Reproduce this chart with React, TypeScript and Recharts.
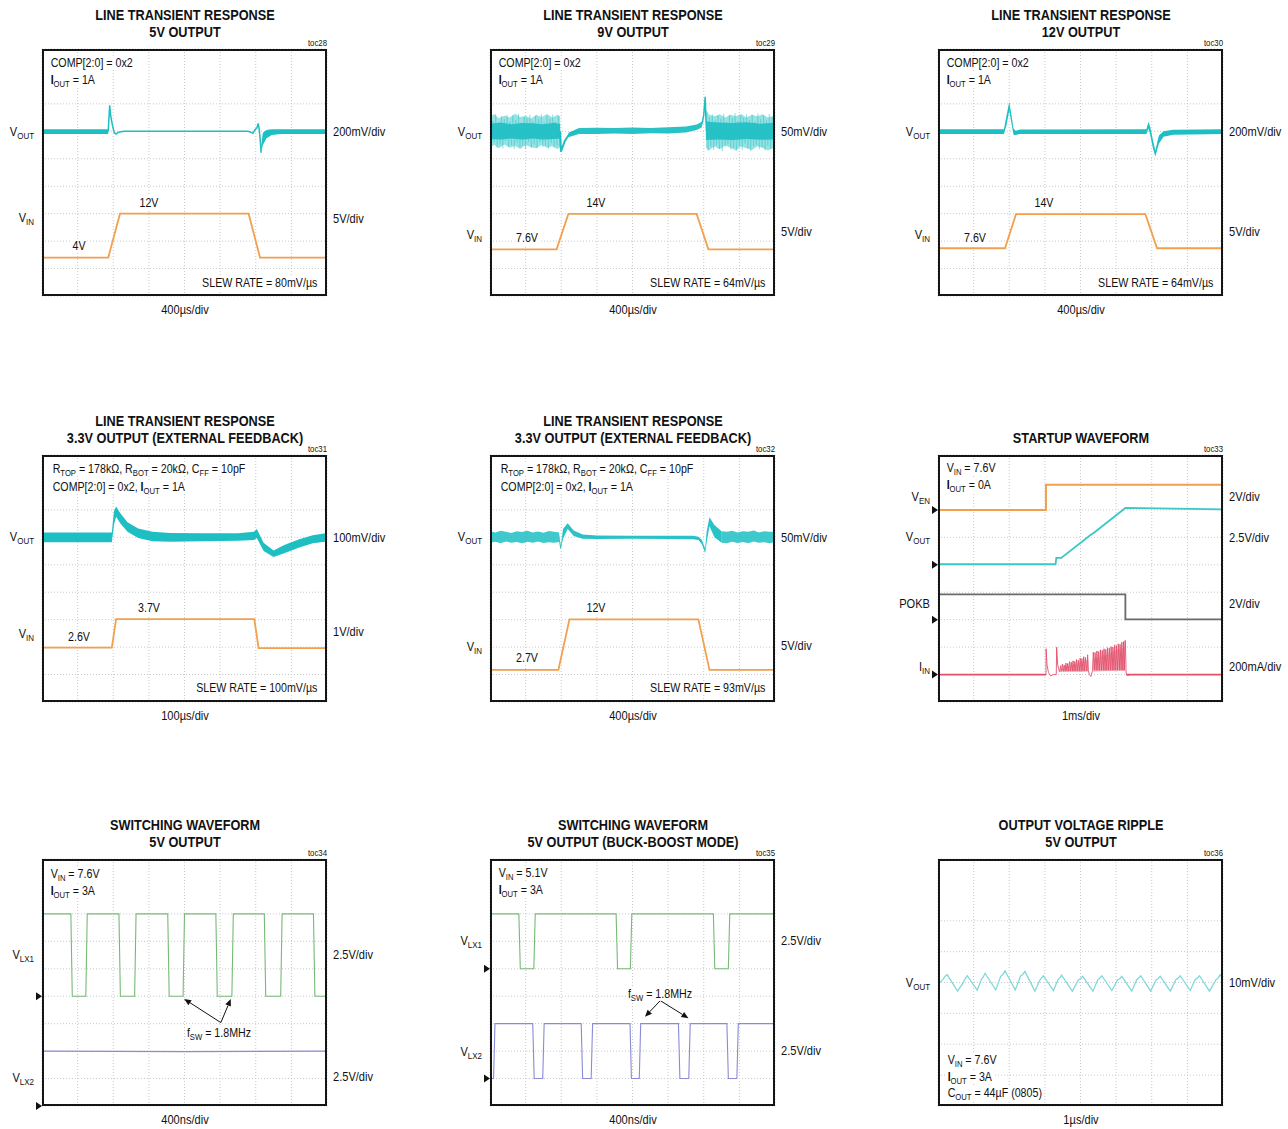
import React from "react";
import {
  ComposedChart,
  Line,
  Area,
  XAxis,
  YAxis,
  CartesianGrid,
  ReferenceDot,
  ReferenceLine,
} from "recharts";

// Every trace is expressed in screen divisions: time runs 0..8 div,
// amplitude 0..9 div (0..8 div on the ripple plot).
const X_TICKS = [0, 1, 2, 3, 4, 5, 6, 7, 8];

// ---------- toc28: 5V output line transient ----------
const p1VoutBandPre = [[0, 5.9, 6.08], [1.86, 5.9, 6.08]];
const p1VoutTrace = [
  [1.86, 6.0], [1.88, 6.5], [1.9, 6.95], [1.93, 6.55], [1.98, 6.2], [2.03, 5.95], [2.08, 5.9],
  [2.15, 5.97], [2.3, 6.0], [5.78, 6.0], [5.86, 5.97], [5.92, 5.92], [5.97, 6.05], [6.03, 6.12],
  [6.07, 6.29], [6.1, 6.05], [6.13, 5.6], [6.15, 5.22],
];
const p1VoutBandPost = [
  [6.15, 5.22, 5.45], [6.2, 5.5, 5.95], [6.3, 5.75, 6.05], [6.45, 5.87, 6.08], [6.7, 5.9, 6.08], [8, 5.9, 6.08],
];
const p1Vin = [[0, 1.4], [1.86, 1.4], [2.19, 3.0], [5.8, 3.0], [6.12, 1.4], [8, 1.4]];

// ---------- toc29: 9V output line transient ----------
const p2NoiseOuterL = [
  [0, 5.42, 6.55], [0.12, 5.5, 6.62], [0.25, 5.38, 6.48], [0.4, 5.52, 6.58], [0.55, 5.4, 6.5],
  [0.7, 5.47, 6.64], [0.85, 5.36, 6.52], [1.0, 5.5, 6.57], [1.15, 5.42, 6.47], [1.3, 5.38, 6.6],
  [1.45, 5.5, 6.52], [1.6, 5.4, 6.63], [1.75, 5.46, 6.5], [1.9, 5.35, 6.6], [1.97, 5.45, 6.55],
];
const p2NoiseInnerL = [
  [0, 5.72, 6.28], [0.3, 5.7, 6.32], [0.6, 5.74, 6.26], [0.9, 5.7, 6.3], [1.2, 5.74, 6.29],
  [1.5, 5.7, 6.26], [1.8, 5.72, 6.31], [1.97, 5.74, 6.27],
];
// sampled every 0.04 div from t = 0
const p2HairL = [
  6.5, 5.45, 6.38, 5.6, 6.62, 5.4, 6.3, 5.52, 6.55, 5.38, 6.45, 5.65, 6.6, 5.44, 6.35, 5.5, 6.58,
  5.36, 6.42, 5.58, 6.64, 5.42, 6.32, 5.48, 6.52, 5.35, 6.47, 5.62, 6.6, 5.4, 6.36, 5.53, 6.56,
  5.39, 6.44, 5.6, 6.63, 5.43, 6.33, 5.5, 6.57, 5.37, 6.46, 5.57, 6.61, 5.41, 6.34, 5.49, 6.54, 5.45,
];
const p2StepTrace = [
  [1.97, 6.0], [1.99, 5.26], [2.03, 5.4], [2.1, 5.65], [2.2, 5.85], [2.35, 5.97], [2.5, 6.02],
];
const p2MidBand = [
  [2.2, 5.78, 5.95], [2.5, 5.9, 6.12], [3.0, 5.9, 6.13], [3.5, 5.92, 6.12], [4.0, 5.9, 6.14],
  [4.5, 5.93, 6.12], [5.0, 5.92, 6.15], [5.5, 5.96, 6.18], [5.8, 6.05, 6.25], [5.95, 6.15, 6.35],
];
const p2SpikeTrace = [[5.95, 6.25], [6.0, 6.6], [6.04, 7.26], [6.06, 6.5], [6.08, 6.0]];
const p2NoiseOuterR = [
  [6.06, 5.4, 6.8], [6.15, 5.3, 6.6], [6.3, 5.45, 6.55], [6.45, 5.35, 6.62], [6.6, 5.48, 6.5],
  [6.75, 5.4, 6.6], [6.9, 5.3, 6.55], [7.05, 5.45, 6.63], [7.2, 5.38, 6.5], [7.35, 5.32, 6.6],
  [7.5, 5.45, 6.55], [7.65, 5.4, 6.62], [7.8, 5.3, 6.5], [8, 5.42, 6.58],
];
const p2NoiseInnerR = [
  [6.06, 5.68, 6.36], [6.4, 5.7, 6.32], [6.8, 5.68, 6.3], [7.2, 5.72, 6.33], [7.6, 5.69, 6.28], [8, 5.7, 6.31],
];
// sampled every 0.04 div from t = 6.08
const p2HairR = [
  6.7, 5.3, 6.5, 5.45, 6.62, 5.32, 6.4, 5.5, 6.58, 5.36, 6.46, 5.28, 6.64, 5.44, 6.35, 5.52, 6.6,
  5.34, 6.48, 5.4, 6.66, 5.3, 6.38, 5.47, 6.57, 5.33, 6.5, 5.55, 6.62, 5.38, 6.42, 5.29, 6.6, 5.46,
  6.36, 5.5, 6.65, 5.35, 6.45, 5.42, 6.58, 5.31, 6.4, 5.48, 6.63, 5.36, 6.52, 5.44, 6.55,
];
const p2Vin = [[0, 1.7], [1.87, 1.7], [2.2, 2.99], [5.8, 2.99], [6.13, 1.7], [8, 1.7]];

// ---------- toc30: 12V output line transient ----------
const p3VoutBand = [
  [0, 5.9, 6.08], [1.85, 5.9, 6.08], [1.92, 6.2, 6.55], [2.0, 6.75, 7.08], [2.06, 6.3, 6.6],
  [2.12, 5.88, 6.1], [2.18, 5.87, 6.02], [2.3, 5.9, 6.07], [5.85, 5.9, 6.08], [5.91, 6.1, 6.35],
  [5.96, 5.85, 6.15], [6.03, 5.4, 5.7], [6.1, 5.08, 5.3], [6.2, 5.55, 5.85], [6.33, 5.8, 6.0],
  [6.6, 5.88, 6.06], [8, 5.9, 6.08],
];
const p3Vin = [[0, 1.74], [1.88, 1.74], [2.19, 2.98], [5.82, 2.98], [6.15, 1.74], [8, 1.74]];

// ---------- toc31: 3.3V external feedback, 100us/div ----------
const p4VoutBand = [
  [0, 5.82, 6.18], [1.96, 5.82, 6.18], [2.02, 6.45, 6.95], [2.08, 6.75, 7.12], [2.2, 6.5, 6.88],
  [2.4, 6.2, 6.55], [2.7, 5.98, 6.32], [3.1, 5.86, 6.2], [3.6, 5.84, 6.16], [4.5, 5.86, 6.15],
  [5.5, 5.88, 6.15], [5.95, 5.9, 6.2], [6.03, 5.98, 6.3], [6.22, 5.5, 5.8], [6.5, 5.28, 5.52],
  [6.8, 5.42, 5.72], [7.2, 5.62, 5.92], [7.6, 5.78, 6.08], [8, 5.85, 6.16],
];
const p4Vin = [[0, 1.98], [1.96, 1.98], [2.08, 3.02], [5.96, 3.02], [6.08, 1.96], [8, 1.96]];

// ---------- toc32: 3.3V external feedback, 400us/div ----------
const p5NoiseL = [
  [0, 5.8, 6.22], [0.15, 5.84, 6.18], [0.3, 5.78, 6.24], [0.45, 5.85, 6.2], [0.6, 5.8, 6.16],
  [0.75, 5.83, 6.22], [0.9, 5.78, 6.19], [1.05, 5.84, 6.24], [1.2, 5.8, 6.18], [1.35, 5.85, 6.21],
  [1.5, 5.79, 6.17], [1.65, 5.82, 6.23], [1.8, 5.8, 6.2], [1.94, 5.83, 6.18],
];
const p5MidBand = [
  [1.94, 5.85, 6.15], [1.97, 5.6, 5.85], [1.99, 5.58, 5.7], [2.05, 5.95, 6.3], [2.18, 6.3, 6.51],
  [2.35, 6.05, 6.25], [2.6, 5.95, 6.1], [3.0, 5.94, 6.07], [4.0, 5.95, 6.06], [5.0, 5.94, 6.06],
  [5.7, 5.93, 6.06], [5.85, 5.9, 6.02], [5.95, 5.75, 5.9], [6.04, 5.42, 5.58], [6.08, 5.8, 6.2],
  [6.16, 6.4, 6.73], [6.3, 6.0, 6.45], [6.5, 5.8, 6.22],
];
const p5NoiseR = [
  [6.5, 5.8, 6.22], [6.65, 5.78, 6.2], [6.8, 5.84, 6.24], [6.95, 5.79, 6.18], [7.1, 5.83, 6.22],
  [7.25, 5.78, 6.2], [7.4, 5.85, 6.25], [7.55, 5.8, 6.18], [7.7, 5.82, 6.22], [7.85, 5.78, 6.2], [8, 5.83, 6.2],
];
const p5Vin = [[0, 1.17], [1.92, 1.17], [2.23, 3.01], [5.85, 3.01], [6.16, 1.17], [8, 1.17]];

// ---------- toc33: startup ----------
const p6Ven = [[0, 7.0], [3.03, 7.0], [3.03, 7.92], [8, 7.92]];
const p6Vout = [
  [0, 5.02], [3.3, 5.02], [3.32, 5.25], [3.46, 5.25], [4.3, 6.1], [4.36, 6.15], [5.26, 7.07], [8, 7.02],
];
const p6Pokb = [[0, 3.92], [5.26, 3.92], [5.26, 3.01], [8, 3.01]];
const p6IinHead = [
  [0, 1.0], [3.03, 1.0], [3.035, 1.94], [3.06, 1.35], [3.1, 1.08], [3.16, 0.95], [3.24, 1.0],
  [3.32, 1.0], [3.33, 2.0], [3.36, 1.35], [3.41, 1.1],
];
const p6SpikesA = [
  [3.44, 1.32], [3.49, 1.38], [3.54, 1.35], [3.59, 1.42], [3.64, 1.4], [3.69, 1.47], [3.74, 1.45],
  [3.79, 1.5], [3.84, 1.48], [3.89, 1.55], [3.94, 1.52], [3.99, 1.6], [4.04, 1.58], [4.09, 1.65],
  [4.14, 1.62], [4.2, 1.72],
];
const p6IinMid = [[4.22, 1.15], [4.25, 1.0], [4.29, 0.93], [4.33, 1.1]];
const p6SpikesB = [
  [4.36, 1.82], [4.41, 1.8], [4.46, 1.86], [4.51, 1.84], [4.56, 1.9], [4.61, 1.88], [4.66, 1.94],
  [4.71, 1.92], [4.76, 1.98], [4.81, 1.96], [4.86, 2.02], [4.91, 2.0], [4.96, 2.08], [5.01, 2.05],
  [5.06, 2.12], [5.11, 2.1], [5.16, 2.18], [5.21, 2.2], [5.25, 2.24],
];
const p6IinTail = [[5.26, 2.24], [5.28, 1.05], [5.32, 0.97], [5.4, 1.0], [8, 1.0]];
const p6IinFillA = [[3.42, 1.08, 1.2], [3.7, 1.1, 1.32], [4.0, 1.1, 1.45], [4.22, 1.12, 1.55]];
const p6IinFillB = [[4.34, 1.1, 1.55], [4.7, 1.12, 1.72], [5.0, 1.15, 1.88], [5.25, 1.15, 2.02]];
const p6Grounds = [7.0, 5.0, 3.0, 1.0];

// ---------- toc34: switching, 5V output ----------
const p7Lx1Edges = [
  [0.81, 4], [1.23, 7], [2.16, 4], [2.6, 7], [3.53, 4], [3.96, 7], [4.88, 4], [5.33, 7], [6.24, 4],
  [6.7, 7], [7.62, 4],
];
const p7Lx2 = [[0, 2.0], [4, 1.98], [8, 2.0]];
const p7Grounds = [4.0, 0.0];
const p7Arrows = [[5.02, 3.04, 3.99, 3.9], [5.02, 3.04, 5.3, 3.9]];

// ---------- toc35: switching, buck-boost ----------
const p8Lx1Edges = [[0.81, 5], [1.23, 7], [3.54, 5], [3.94, 7], [6.27, 5], [6.69, 7]];
const p8Lx2Edges = [
  [0.1, 3], [1.2, 1], [1.48, 3], [2.56, 1], [2.84, 3], [3.93, 1], [4.19, 3], [5.29, 1], [5.58, 3],
  [6.65, 1], [6.93, 3],
];
const p8Grounds = [5.0, 1.0];
const p8Arrows = [[4.78, 3.84, 4.35, 3.25], [4.78, 3.84, 5.57, 3.2]];

// ---------- toc36: output ripple (8 vertical divisions) ----------
const p9Ripple = [
  [0, 3.95], [0.14, 4.1], [0.2, 4.2], [0.26, 4.25], [0.55, 3.72],
  [0.7, 3.98], [0.76, 4.12], [0.82, 4.22], [1.1, 3.75],
  [1.22, 4.1], [1.27, 4.18], [1.32, 4.3], [1.62, 3.76],
  [1.76, 4.2], [1.82, 4.26], [1.88, 4.38], [2.17, 3.76],
  [2.32, 4.22], [2.38, 4.26], [2.44, 4.36], [2.72, 3.72],
  [2.86, 4.08], [2.9, 4.14], [2.96, 4.22], [3.24, 3.74],
  [3.37, 4.1], [3.42, 4.15], [3.47, 4.24], [3.77, 3.72],
  [3.94, 4.08], [4.0, 4.12], [4.06, 4.2], [4.35, 3.72],
  [4.48, 4.08], [4.54, 4.14], [4.6, 4.22], [4.88, 3.74],
  [5.04, 4.08], [5.1, 4.12], [5.16, 4.2], [5.44, 3.72],
  [5.58, 4.1], [5.63, 4.14], [5.69, 4.22], [5.97, 3.72],
  [6.12, 4.08], [6.18, 4.12], [6.24, 4.2], [6.52, 3.72],
  [6.68, 4.1], [6.74, 4.14], [6.8, 4.22], [7.08, 3.74],
  [7.22, 4.1], [7.28, 4.14], [7.34, 4.22], [7.62, 3.72],
  [7.8, 4.08], [7.86, 4.14], [7.92, 4.25], [8, 4.1],
];

// ---------- layout & style ----------
const W = 285;
const H = 247;
const COLS = [42, 490, 938];
const ROWS = [49, 455, 859];
const FONT = '"Liberation Sans", Arial, sans-serif';
const NARROW = 0.82; // horizontal squeeze giving a narrow-face look

const CYAN = "#1dbfc3";
const ORANGE = "#f2a04e";
const GREEN = "#78b978";
const PURPLE = "#8a8ad6";
const RED = "#e2506c";
const PINK = "#f09aac";
const GRAY = "#6a6a6a";
const RIPPLE = "#82d9db";

type Pt = { t: number; v: number };

const toLine = (a: number[][]): Pt[] => a.map(([t, v]) => ({ t, v }));
const toBand = (a: number[][]) => a.map(([t, lo, hi]) => ({ t, r: [lo, hi] }));
const sampled = (t0: number, dt: number, vals: number[]): Pt[] =>
  vals.map((v, i) => ({ t: t0 + i * dt, v }));
const toSwitch = (start: number, edges: number[][], edge = 0.04): Pt[] => {
  const out: Pt[] = [{ t: 0, v: start }];
  let lvl = start;
  for (const [t, to] of edges) {
    out.push({ t, v: lvl });
    out.push({ t: t + edge, v: to });
    lvl = to;
  }
  out.push({ t: 8, v: lvl });
  return out;
};
const toSpikes = (a: number[][], base: number): Pt[] =>
  a.flatMap(([t, h]) => [
    { t: t - 0.02, v: base },
    { t, v: h },
  ]);

const trace = (key: string, data: Pt[], color: string, width = 1.5, opacity = 1) => (
  <Line
    key={key}
    data={data}
    dataKey="v"
    type="linear"
    stroke={color}
    strokeWidth={width}
    strokeOpacity={opacity}
    dot={false}
    activeDot={false}
    isAnimationActive={false}
  />
);
const band = (key: string, data: number[][], color: string, opacity = 1) => (
  <Area
    key={key}
    data={toBand(data)}
    dataKey="r"
    type="linear"
    stroke="none"
    fill={color}
    fillOpacity={opacity}
    activeDot={false}
    isAnimationActive={false}
  />
);

const Tri = (p: any) => (
  <polygon points={`${p.cx - 6},${p.cy - 4} ${p.cx},${p.cy} ${p.cx - 6},${p.cy + 4}`} fill="#111" />
);
const grounds = (key: string, levels: number[]) =>
  levels.map((lv, i) => (
    <ReferenceDot key={`${key}${i}`} x={0} y={lv} r={0} shape={Tri} ifOverflow="visible" />
  ));

const Arrow = (p: any) => {
  const { x1, y1, x2, y2 } = p;
  const ang = Math.atan2(y2 - y1, x2 - x1);
  const bx = x2 - 7 * Math.cos(ang);
  const by = y2 - 7 * Math.sin(ang);
  const px = -Math.sin(ang) * 3;
  const py = Math.cos(ang) * 3;
  return (
    <g>
      <line x1={x1} y1={y1} x2={bx} y2={by} stroke="#111" strokeWidth={1} />
      <polygon points={`${x2},${y2} ${bx + px},${by + py} ${bx - px},${by - py}`} fill="#111" />
    </g>
  );
};
const arrows = (key: string, list: number[][]) =>
  list.map((a, i) => (
    <ReferenceLine
      key={`${key}${i}`}
      segment={[
        { x: a[0], y: a[1] },
        { x: a[2], y: a[3] },
      ]}
      shape={Arrow}
      ifOverflow="visible"
    />
  ));

function Scope({ x, y, yDivs = 9, children }: { x: number; y: number; yDivs?: number; children: any }) {
  const yTicks = Array.from({ length: yDivs + 1 }, (_, i) => i);
  return (
    <div style={{ position: "absolute", left: x, top: y, width: W, height: H }}>
      <ComposedChart width={W} height={H} margin={{ top: 0, right: 0, bottom: 0, left: 0 }}>
        <XAxis type="number" dataKey="t" domain={[0, 8]} ticks={X_TICKS} hide allowDataOverflow />
        <YAxis type="number" domain={[0, yDivs]} ticks={yTicks} hide allowDataOverflow />
        <CartesianGrid stroke="#c9c9c9" strokeDasharray="1 2" />
        {children}
      </ComposedChart>
      <div
        style={{
          position: "absolute",
          left: 0,
          top: 0,
          width: W,
          height: H,
          boxSizing: "border-box",
          border: "2px solid #151515",
          pointerEvents: "none",
        }}
      />
    </div>
  );
}

type TxtProps = { x: number; y: number; a?: "l" | "c" | "r"; s?: number; b?: boolean; bg?: boolean; children: any };
function Txt({ x, y, a = "l", s = 13.5, b = false, bg = false, children }: TxtProps) {
  const tx = a === "l" ? "0" : a === "c" ? "-50%" : "-100%";
  const origin = a === "l" ? "left" : a === "c" ? "center" : "right";
  return (
    <div
      style={{
        position: "absolute",
        left: x,
        top: y,
        transform: `translate(${tx}, -50%) scaleX(${NARROW})`,
        transformOrigin: `${origin} center`,
        fontSize: s,
        fontWeight: b ? 700 : 400,
        whiteSpace: "nowrap",
        lineHeight: 1.1,
        color: "#111",
        background: bg ? "#fff" : "transparent",
        padding: bg ? "0 2px" : 0,
      }}
    >
      {children}
    </div>
  );
}
const Sub = ({ children }: { children: any }) => (
  <span style={{ fontSize: "0.72em", position: "relative", top: "0.3em" }}>{children}</span>
);

const cx = (c: number) => COLS[c] + W / 2;
const L = (c: number) => COLS[c] - 8;
const R = (c: number) => COLS[c] + W + 6;
const IN = (c: number) => COLS[c] + 7;

function Titles({ c, row, l1, l2 }: { c: number; row: number; l1?: string; l2: string }) {
  const t = ROWS[row];
  return (
    <>
      {l1 ? (
        <Txt x={cx(c)} y={t - 34} a="c" s={15.5} b>
          {l1}
        </Txt>
      ) : null}
      <Txt x={cx(c)} y={t - 17} a="c" s={15.5} b>
        {l2}
      </Txt>
    </>
  );
}
const Toc = ({ c, row, id }: { c: number; row: number; id: string }) => (
  <Txt x={COLS[c] + W} y={ROWS[row] - 6} a="r" s={9.5}>
    {id}
  </Txt>
);
const XLabel = ({ c, row, text }: { c: number; row: number; text: string }) => (
  <Txt x={cx(c)} y={ROWS[row] + H + 14} a="c">
    {text}
  </Txt>
);

export default function App() {
  return (
    <div
      style={{
        position: "absolute",
        left: 0,
        top: 0,
        width: 1288,
        height: 1129,
        background: "#fff",
        fontFamily: FONT,
        overflow: "hidden",
      }}
    >
      <style>{`.recharts-surface{overflow:visible}`}</style>

      {/* ---------------- row 1 ---------------- */}
      <Scope x={COLS[0]} y={ROWS[0]}>
        {[
          band("a", p1VoutBandPre, CYAN),
          trace("b", toLine(p1VoutTrace), CYAN, 1.5),
          band("c", p1VoutBandPost, CYAN),
          trace("d", toLine(p1Vin), ORANGE, 1.8),
        ]}
      </Scope>
      <Scope x={COLS[1]} y={ROWS[0]}>
        {[
          band("a", p2NoiseOuterL, CYAN, 0.45),
          trace("h1", sampled(0, 0.04, p2HairL), CYAN, 0.6, 0.5),
          band("b", p2NoiseInnerL, CYAN, 0.9),
          trace("c", toLine(p2StepTrace), CYAN, 2),
          band("d", p2MidBand, CYAN, 0.95),
          trace("e", toLine(p2SpikeTrace), CYAN, 1.5),
          band("f", p2NoiseOuterR, CYAN, 0.45),
          trace("h2", sampled(6.08, 0.04, p2HairR), CYAN, 0.6, 0.5),
          band("g", p2NoiseInnerR, CYAN, 0.9),
          trace("i", toLine(p2Vin), ORANGE, 1.8),
        ]}
      </Scope>
      <Scope x={COLS[2]} y={ROWS[0]}>
        {[band("a", p3VoutBand, CYAN), trace("b", toLine(p3Vin), ORANGE, 1.8)]}
      </Scope>

      {/* ---------------- row 2 ---------------- */}
      <Scope x={COLS[0]} y={ROWS[1]}>
        {[band("a", p4VoutBand, CYAN), trace("b", toLine(p4Vin), ORANGE, 1.8)]}
      </Scope>
      <Scope x={COLS[1]} y={ROWS[1]}>
        {[
          band("a", p5NoiseL, CYAN, 0.85),
          band("b", p5MidBand, CYAN, 0.95),
          band("c", p5NoiseR, CYAN, 0.85),
          trace("d", toLine(p5Vin), ORANGE, 1.8),
        ]}
      </Scope>
      <Scope x={COLS[2]} y={ROWS[1]}>
        {[
          trace("a", toLine(p6Ven), ORANGE, 2),
          trace("b", toLine(p6Vout), "#3cc6c6", 1.8),
          trace("c", toLine(p6Pokb), GRAY, 1.8),
          band("d", p6IinFillA, PINK, 0.55),
          band("e", p6IinFillB, PINK, 0.55),
          trace(
            "f",
            [
              ...toLine(p6IinHead),
              ...toSpikes(p6SpikesA, 1.12),
              ...toLine(p6IinMid),
              ...toSpikes(p6SpikesB, 1.15),
              ...toLine(p6IinTail),
            ],
            RED,
            0.9
          ),
          trace("g", toLine([[0, 1.0], [3.03, 1.0]]), RED, 1.8),
          trace("h", toLine([[5.28, 1.0], [8, 1.0]]), RED, 1.8),
          ...grounds("m", p6Grounds),
        ]}
      </Scope>

      {/* ---------------- row 3 ---------------- */}
      <Scope x={COLS[0]} y={ROWS[2]}>
        {[
          trace("a", toSwitch(7, p7Lx1Edges), GREEN, 1.1),
          trace("b", toLine(p7Lx2), PURPLE, 1.1),
          ...grounds("m", p7Grounds),
          ...arrows("r", p7Arrows),
        ]}
      </Scope>
      <Scope x={COLS[1]} y={ROWS[2]}>
        {[
          trace("a", toSwitch(7, p8Lx1Edges), GREEN, 1.1),
          trace("b", toSwitch(1, p8Lx2Edges), PURPLE, 1.1),
          ...grounds("m", p8Grounds),
          ...arrows("r", p8Arrows),
        ]}
      </Scope>
      <Scope x={COLS[2]} y={ROWS[2]} yDivs={8}>
        {[trace("a", toLine(p9Ripple), RIPPLE, 1.3)]}
      </Scope>

      {/* ---------------- titles ---------------- */}
      <Titles c={0} row={0} l1="LINE TRANSIENT RESPONSE" l2="5V OUTPUT" />
      <Titles c={1} row={0} l1="LINE TRANSIENT RESPONSE" l2="9V OUTPUT" />
      <Titles c={2} row={0} l1="LINE TRANSIENT RESPONSE" l2="12V OUTPUT" />
      <Titles c={0} row={1} l1="LINE TRANSIENT RESPONSE" l2="3.3V OUTPUT (EXTERNAL FEEDBACK)" />
      <Titles c={1} row={1} l1="LINE TRANSIENT RESPONSE" l2="3.3V OUTPUT (EXTERNAL FEEDBACK)" />
      <Titles c={2} row={1} l2="STARTUP WAVEFORM" />
      <Titles c={0} row={2} l1="SWITCHING WAVEFORM" l2="5V OUTPUT" />
      <Titles c={1} row={2} l1="SWITCHING WAVEFORM" l2="5V OUTPUT (BUCK-BOOST MODE)" />
      <Titles c={2} row={2} l1="OUTPUT VOLTAGE RIPPLE" l2="5V OUTPUT" />

      <Toc c={0} row={0} id="toc28" />
      <Toc c={1} row={0} id="toc29" />
      <Toc c={2} row={0} id="toc30" />
      <Toc c={0} row={1} id="toc31" />
      <Toc c={1} row={1} id="toc32" />
      <Toc c={2} row={1} id="toc33" />
      <Toc c={0} row={2} id="toc34" />
      <Toc c={1} row={2} id="toc35" />
      <Toc c={2} row={2} id="toc36" />

      <XLabel c={0} row={0} text="400µs/div" />
      <XLabel c={1} row={0} text="400µs/div" />
      <XLabel c={2} row={0} text="400µs/div" />
      <XLabel c={0} row={1} text="100µs/div" />
      <XLabel c={1} row={1} text="400µs/div" />
      <XLabel c={2} row={1} text="1ms/div" />
      <XLabel c={0} row={2} text="400ns/div" />
      <XLabel c={1} row={2} text="400ns/div" />
      <XLabel c={2} row={2} text="1µs/div" />

      {/* ---------------- row 1 annotations ---------------- */}
      {[0, 1, 2].map((c) => (
        <React.Fragment key={`r1${c}`}>
          <Txt x={IN(c)} y={63} s={13} bg>
            COMP[2:0] = 0x2
          </Txt>
          <Txt x={IN(c)} y={80} s={13} bg>
            <b>I</b>
            <Sub>OUT</Sub> = 1A
          </Txt>
          <Txt x={L(c)} y={132} a="r">
            V<Sub>OUT</Sub>
          </Txt>
          <Txt x={COLS[c] + W - 8} y={283} a="r" s={13} bg>
            SLEW RATE = {c === 0 ? "80mV/µs" : "64mV/µs"}
          </Txt>
        </React.Fragment>
      ))}
      <Txt x={L(0)} y={218} a="r">
        V<Sub>IN</Sub>
      </Txt>
      <Txt x={L(1)} y={235} a="r">
        V<Sub>IN</Sub>
      </Txt>
      <Txt x={L(2)} y={235} a="r">
        V<Sub>IN</Sub>
      </Txt>
      <Txt x={R(0)} y={132}>200mV/div</Txt>
      <Txt x={R(0)} y={219}>5V/div</Txt>
      <Txt x={R(1)} y={132}>50mV/div</Txt>
      <Txt x={R(1)} y={232}>5V/div</Txt>
      <Txt x={R(2)} y={132}>200mV/div</Txt>
      <Txt x={R(2)} y={232}>5V/div</Txt>
      <Txt x={149} y={203} a="c" s={13} bg>12V</Txt>
      <Txt x={79} y={246} a="c" s={13} bg>4V</Txt>
      <Txt x={596} y={203} a="c" s={13} bg>14V</Txt>
      <Txt x={527} y={238} a="c" s={13} bg>7.6V</Txt>
      <Txt x={1044} y={203} a="c" s={13} bg>14V</Txt>
      <Txt x={975} y={238} a="c" s={13} bg>7.6V</Txt>

      {/* ---------------- row 2 annotations ---------------- */}
      {[0, 1].map((c) => (
        <React.Fragment key={`r2${c}`}>
          <Txt x={COLS[c] + 9} y={469} s={13} bg>
            R<Sub>TOP</Sub> = 178kΩ, R<Sub>BOT</Sub> = 20kΩ, C<Sub>FF</Sub> = 10pF
          </Txt>
          <Txt x={COLS[c] + 9} y={487} s={13} bg>
            COMP[2:0] = 0x2, <b>I</b>
            <Sub>OUT</Sub> = 1A
          </Txt>
          <Txt x={L(c)} y={537} a="r">
            V<Sub>OUT</Sub>
          </Txt>
          <Txt x={COLS[c] + W - 8} y={688} a="r" s={13} bg>
            SLEW RATE = {c === 0 ? "100mV/µs" : "93mV/µs"}
          </Txt>
        </React.Fragment>
      ))}
      <Txt x={L(0)} y={634} a="r">
        V<Sub>IN</Sub>
      </Txt>
      <Txt x={L(1)} y={647} a="r">
        V<Sub>IN</Sub>
      </Txt>
      <Txt x={R(0)} y={538}>100mV/div</Txt>
      <Txt x={R(0)} y={632}>1V/div</Txt>
      <Txt x={R(1)} y={538}>50mV/div</Txt>
      <Txt x={R(1)} y={646}>5V/div</Txt>
      <Txt x={149} y={608} a="c" s={13} bg>3.7V</Txt>
      <Txt x={79} y={637} a="c" s={13} bg>2.6V</Txt>
      <Txt x={596} y={608} a="c" s={13} bg>12V</Txt>
      <Txt x={527} y={658} a="c" s={13} bg>2.7V</Txt>

      <Txt x={IN(2)} y={468} s={13} bg>
        V<Sub>IN</Sub> = 7.6V
      </Txt>
      <Txt x={IN(2)} y={485} s={13} bg>
        <b>I</b>
        <Sub>OUT</Sub> = 0A
      </Txt>
      <Txt x={L(2)} y={497} a="r">
        V<Sub>EN</Sub>
      </Txt>
      <Txt x={L(2)} y={537} a="r">
        V<Sub>OUT</Sub>
      </Txt>
      <Txt x={L(2)} y={604} a="r">
        POKB
      </Txt>
      <Txt x={L(2)} y={667} a="r">
        I<Sub>IN</Sub>
      </Txt>
      <Txt x={R(2)} y={497}>2V/div</Txt>
      <Txt x={R(2)} y={538}>2.5V/div</Txt>
      <Txt x={R(2)} y={604}>2V/div</Txt>
      <Txt x={R(2)} y={667}>200mA/div</Txt>

      {/* ---------------- row 3 annotations ---------------- */}
      <Txt x={IN(0)} y={874} s={13} bg>
        V<Sub>IN</Sub> = 7.6V
      </Txt>
      <Txt x={IN(0)} y={891} s={13} bg>
        <b>I</b>
        <Sub>OUT</Sub> = 3A
      </Txt>
      <Txt x={L(0)} y={955} a="r">
        V<Sub>LX1</Sub>
      </Txt>
      <Txt x={L(0)} y={1078} a="r">
        V<Sub>LX2</Sub>
      </Txt>
      <Txt x={R(0)} y={955}>2.5V/div</Txt>
      <Txt x={R(0)} y={1077}>2.5V/div</Txt>
      <Txt x={219} y={1033} a="c" s={13} bg>
        f<Sub>SW</Sub> = 1.8MHz
      </Txt>

      <Txt x={IN(1)} y={873} s={13} bg>
        V<Sub>IN</Sub> = 5.1V
      </Txt>
      <Txt x={IN(1)} y={890} s={13} bg>
        <b>I</b>
        <Sub>OUT</Sub> = 3A
      </Txt>
      <Txt x={L(1)} y={941} a="r">
        V<Sub>LX1</Sub>
      </Txt>
      <Txt x={L(1)} y={1052} a="r">
        V<Sub>LX2</Sub>
      </Txt>
      <Txt x={R(1)} y={941}>2.5V/div</Txt>
      <Txt x={R(1)} y={1051}>2.5V/div</Txt>
      <Txt x={660} y={994} a="c" s={13} bg>
        f<Sub>SW</Sub> = 1.8MHz
      </Txt>

      <Txt x={L(2)} y={983} a="r">
        V<Sub>OUT</Sub>
      </Txt>
      <Txt x={R(2)} y={983}>10mV/div</Txt>
      <Txt x={IN(2) + 1} y={1060} s={13} bg>
        V<Sub>IN</Sub> = 7.6V
      </Txt>
      <Txt x={IN(2) + 1} y={1077} s={13} bg>
        <b>I</b>
        <Sub>OUT</Sub> = 3A
      </Txt>
      <Txt x={IN(2) + 1} y={1093} s={13} bg>
        C<Sub>OUT</Sub> = 44µF (0805)
      </Txt>
    </div>
  );
}
